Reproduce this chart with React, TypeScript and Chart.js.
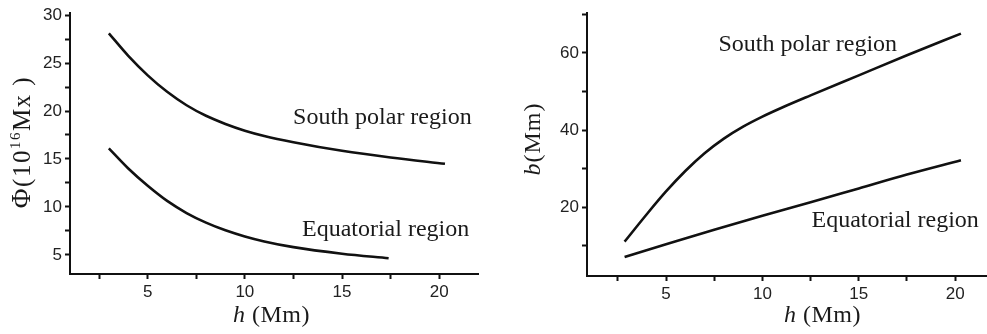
import React, { useEffect, useRef } from "react";
import { Chart, registerables } from "chart.js";
Chart.register(...registerables);

// ---- data (h in Mm) ----
const H_SOUTH_FLUX = [3, 4, 5, 6, 7, 8, 9, 10, 11, 12.5, 15, 17.5, 20.3];
const FLUX_SOUTH = [28.1, 25.75, 23.72, 22.0, 20.6, 19.5, 18.65, 17.95, 17.4, 16.75, 15.85, 15.15, 14.5];
const H_EQ_FLUX = [3, 4, 5, 6, 7, 8, 9, 10, 11, 12.5, 15, 17.4];
const FLUX_EQ = [16.1, 14.0, 12.2, 10.62, 9.36, 8.36, 7.56, 6.92, 6.4, 5.8, 5.12, 4.65];

const H_SOUTH_B = [2.85, 4, 5, 6, 7, 8, 9, 10, 11, 12.5, 15, 17.5, 20.3];
const B_SOUTH = [11.1, 18.2, 24.1, 29.4, 34.0, 37.8, 40.9, 43.5, 45.8, 49.0, 54.2, 59.4, 65.0];
const H_EQ_B = [2.85, 5, 7.5, 10, 12.5, 15, 17.5, 20.3];
const B_EQ = [7.1, 10.4, 14.2, 17.8, 21.3, 24.9, 28.5, 32.2];

const X_TICKS = [2.5, 5, 7.5, 10, 12.5, 15, 17.5, 20];
const X_LABELED = [5, 10, 15, 20];
const Y_TICKS_FLUX = [5, 7.5, 10, 12.5, 15, 17.5, 20, 22.5, 25, 27.5, 30];
const Y_LABELED_FLUX = [5, 10, 15, 20, 25, 30];
const Y_TICKS_B = [10, 20, 30, 40, 50, 60, 70];
const Y_LABELED_B = [20, 40, 60];

const SERIES_NAMES = ["South polar region", "Equatorial region"];

const toPts = (xs: number[], ys: number[]) => xs.map((x, i) => ({ x, y: ys[i] }));

type Run = { text: string; font: string; dy?: number };

function drawRuns(ctx: CanvasRenderingContext2D, runs: Run[], cx: number, baseline: number, spacing = 0) {
  const c: any = ctx;
  c.letterSpacing = spacing + "px";
  let total = 0;
  const widths = runs.map((r) => {
    ctx.font = r.font;
    const w = ctx.measureText(r.text).width;
    total += w;
    return w;
  });
  let x = cx - total / 2;
  ctx.textAlign = "left";
  ctx.textBaseline = "alphabetic";
  runs.forEach((r, i) => {
    ctx.font = r.font;
    ctx.fillText(r.text, x, baseline + (r.dy || 0));
    x += widths[i];
  });
  c.letterSpacing = "0px";
}

const SERIF = '"Liberation Serif", "Times New Roman", serif';
const SANS = '"Liberation Sans", Arial, sans-serif';

type PanelCfg = {
  series: { x: number[]; y: number[] }[];
  xMin: number;
  xMax: number;
  yMin: number;
  yMax: number;
  yTicks: number[];
  yLabeled: number[];
  padTop: number;
  padRight: number;
  yWidth: number;
  xHeight: number;
  annotations: { text: string; x: number; y: number }[];
  xTitleCenter: number;
  xTitleBaseline: number;
  yTitle: Run[];
  yTitleSpacing: number;
  yTitleBaseline: number;
  yTitleCenter: number;
};

function Panel({ cfg, left, width }: { cfg: PanelCfg; left: number; width: number }) {
  const ref = useRef<HTMLCanvasElement | null>(null);
  useEffect(() => {
    if (!ref.current) return;
    const textPlugin = {
      id: "texts",
      afterDraw(chart: any) {
        const ctx = chart.ctx as CanvasRenderingContext2D;
        const xs = chart.scales.x;
        const ys = chart.scales.y;
        ctx.save();
        ctx.fillStyle = "#1a1a1a";
        ctx.font = `24px ${SERIF}`;
        ctx.textAlign = "left";
        ctx.textBaseline = "alphabetic";
        cfg.annotations.forEach((a) => {
          ctx.fillText(a.text, xs.getPixelForValue(a.x), ys.getPixelForValue(a.y));
        });
        drawRuns(
          ctx,
          [
            { text: "h", font: `italic 24px ${SERIF}` },
            { text: " (Mm)", font: `24px ${SERIF}` },
          ],
          chart.chartArea.left + cfg.xTitleCenter,
          cfg.xTitleBaseline,
          0.5
        );
        ctx.translate(cfg.yTitleBaseline, cfg.yTitleCenter);
        ctx.rotate(-Math.PI / 2);
        drawRuns(ctx, cfg.yTitle, 0, 0, cfg.yTitleSpacing);
        ctx.restore();
      },
    };
    const chart = new Chart(ref.current, {
      type: "line",
      data: {
        datasets: cfg.series.map((s) => ({
          data: toPts(s.x, s.y),
          borderColor: "#111",
          borderWidth: 2.6,
          pointRadius: 0,
          cubicInterpolationMode: "monotone" as const,
          fill: false,
        })),
      },
      options: {
        animation: false,
        responsive: false,
        maintainAspectRatio: false,
        events: [],
        layout: { padding: { top: cfg.padTop, right: cfg.padRight, left: 0, bottom: 0 } },
        plugins: { legend: { display: false }, tooltip: { enabled: false }, title: { display: false } },
        scales: {
          x: {
            type: "linear",
            min: cfg.xMin,
            max: cfg.xMax,
            afterBuildTicks: (s: any) => {
              s.ticks = X_TICKS.map((v) => ({ value: v }));
            },
            afterFit: (s: any) => {
              s.height = cfg.xHeight;
            },
            ticks: {
              autoSkip: false,
              maxRotation: 0,
              padding: 3,
              color: "#222",
              font: { family: SANS, size: 17 },
              callback: (v: any) => (X_LABELED.includes(Number(v)) ? String(v) : ""),
            },
            grid: { drawOnChartArea: false, drawTicks: true, tickLength: 5, tickColor: "#111", tickWidth: 2 },
            border: { display: true, color: "#111", width: 2 },
          },
          y: {
            type: "linear",
            min: cfg.yMin,
            max: cfg.yMax,
            afterBuildTicks: (s: any) => {
              s.ticks = cfg.yTicks.map((v) => ({ value: v }));
            },
            afterFit: (s: any) => {
              s.width = cfg.yWidth;
            },
            ticks: {
              autoSkip: false,
              padding: 3,
              color: "#222",
              font: { family: SANS, size: 17 },
              callback: (v: any) => (cfg.yLabeled.includes(Number(v)) ? String(v) : ""),
            },
            grid: { drawOnChartArea: false, drawTicks: true, tickLength: 5, tickColor: "#111", tickWidth: 2 },
            border: { display: true, color: "#111", width: 2 },
          },
        },
      } as any,
      plugins: [textPlugin],
    });
    return () => chart.destroy();
  }, [cfg]);
  return (
    <canvas
      ref={ref}
      width={width}
      height={334}
      style={{ position: "absolute", left, top: 0, width, height: 334 }}
    />
  );
}

const LEFT_CFG: PanelCfg = {
  series: [
    { x: H_SOUTH_FLUX, y: FLUX_SOUTH },
    { x: H_EQ_FLUX, y: FLUX_EQ },
  ],
  xMin: 1,
  xMax: 22,
  yMin: 3,
  yMax: 30.2,
  yTicks: Y_TICKS_FLUX,
  yLabeled: Y_LABELED_FLUX,
  padTop: 8,
  padRight: 15,
  yWidth: 70,
  xHeight: 60,
  annotations: [
    { text: SERIES_NAMES[0], x: 12.48, y: 18.65 },
    { text: SERIES_NAMES[1], x: 12.94, y: 6.92 },
  ],
  xTitleCenter: 201.5,
  xTitleBaseline: 322,
  yTitle: [
    { text: "Φ", font: `27px ${SERIF}` },
    { text: "(10", font: `25px ${SERIF}` },
    { text: "16", font: `15px ${SERIF}`, dy: -10 },
    { text: "Mx )", font: `25px ${SERIF}` },
  ],
  yTitleSpacing: 1.5,
  yTitleBaseline: 30,
  yTitleCenter: 142,
};

const RIGHT_CFG: PanelCfg = {
  series: [
    { x: H_SOUTH_B, y: B_SOUTH },
    { x: H_EQ_B, y: B_EQ },
  ],
  xMin: 0.9,
  xMax: 21.6,
  yMin: 2.2,
  yMax: 70.3,
  yTicks: Y_TICKS_B,
  yLabeled: Y_LABELED_B,
  padTop: 13,
  padRight: 1,
  yWidth: 94,
  xHeight: 58,
  annotations: [
    { text: SERIES_NAMES[0], x: 7.72, y: 60.5 },
    { text: SERIES_NAMES[1], x: 12.55, y: 14.98 },
  ],
  xTitleCenter: 235.5,
  xTitleBaseline: 322,
  yTitle: [
    { text: "b", font: `italic 24px ${SERIF}` },
    { text: "(Mm)", font: `24px ${SERIF}` },
  ],
  yTitleSpacing: 1,
  yTitleBaseline: 47,
  yTitleCenter: 139,
};

export default function App() {
  useEffect(() => {
    document.body.style.margin = "0";
    document.body.style.background = "#fff";
  }, []);
  return (
    <div style={{ position: "relative", width: 987, height: 334, background: "#fff", overflow: "hidden" }}>
      <Panel cfg={LEFT_CFG} left={0} width={493} />
      <Panel cfg={RIGHT_CFG} left={493} width={494} />
    </div>
  );
}
